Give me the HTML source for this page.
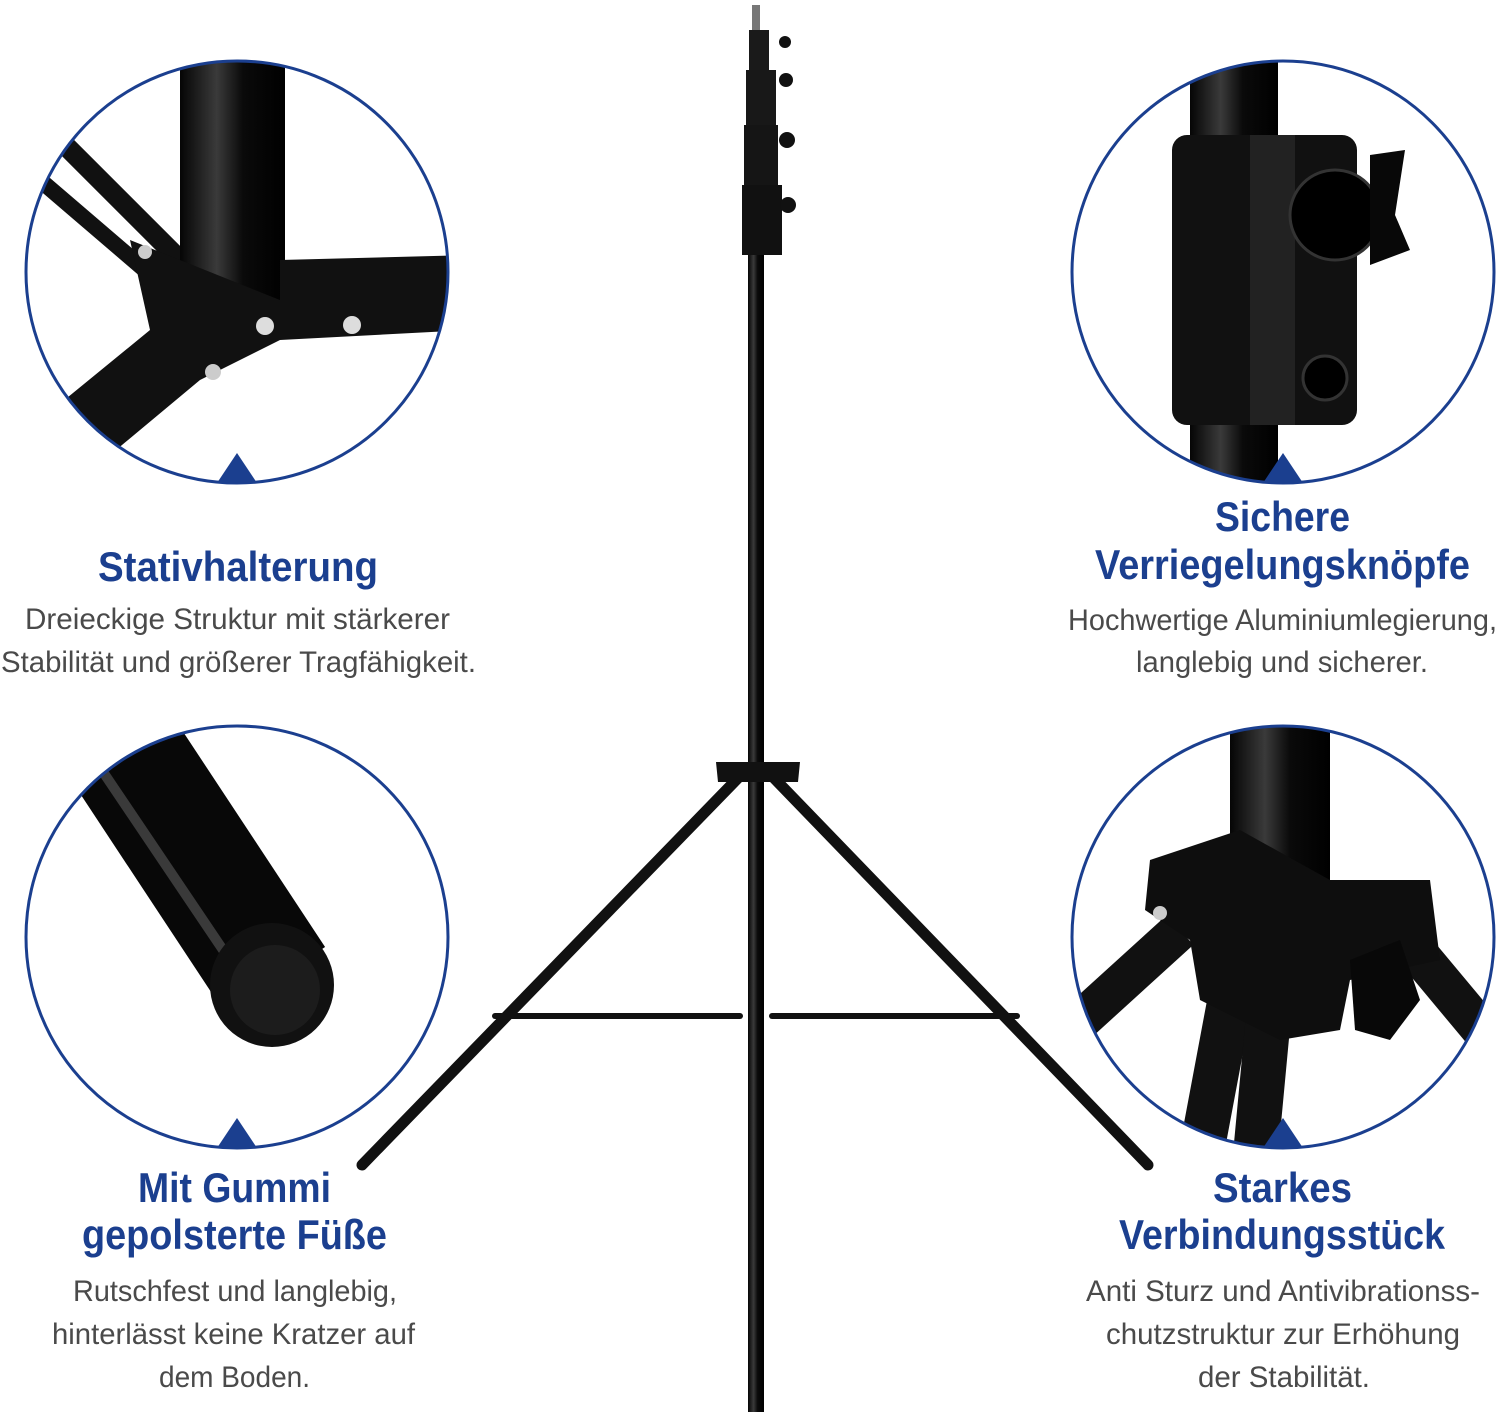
<!DOCTYPE html>
<html><head><meta charset="utf-8"><style>
html,body{margin:0;padding:0;background:#fff;}
svg{display:block;}
.t{font-family:"Liberation Sans",sans-serif;font-weight:bold;font-size:42px;fill:#1b3f8f;}
.b{font-family:"Liberation Sans",sans-serif;font-size:30px;fill:#4a4a4a;}
</style></head><body>
<svg width="1500" height="1420" viewBox="0 0 1500 1420" xmlns="http://www.w3.org/2000/svg">
<defs>
<clipPath id="c1"><circle cx="237" cy="272" r="211"/></clipPath>
<clipPath id="c2"><circle cx="1283" cy="272" r="211"/></clipPath>
<clipPath id="c3"><circle cx="237" cy="937" r="211"/></clipPath>
<clipPath id="c4"><circle cx="1283" cy="937" r="211"/></clipPath>
<linearGradient id="pg" x1="0" x2="1"><stop offset="0" stop-color="#050505"/><stop offset=".35" stop-color="#3a3a3a"/><stop offset=".6" stop-color="#0a0a0a"/><stop offset="1" stop-color="#000"/></linearGradient>
</defs>

<!-- Tripod -->
<g stroke="#111" stroke-linecap="round">
<line x1="740" y1="776" x2="362" y2="1165" stroke-width="11"/>
<line x1="772" y1="776" x2="1148" y2="1165" stroke-width="11"/>
<line x1="495" y1="1016" x2="740" y2="1016" stroke-width="6"/>
<line x1="772" y1="1016" x2="1017" y2="1016" stroke-width="6"/>
</g>
<rect x="748" y="250" width="16" height="1162" fill="url(#pg)"/>
<rect x="751" y="40" width="11" height="215" fill="#111"/>
<rect x="742" y="185" width="40" height="70" fill="#111"/>
<rect x="744" y="125" width="34" height="60" fill="#151515"/>
<rect x="746" y="70" width="30" height="55" fill="#181818"/>
<rect x="749" y="30" width="20" height="40" fill="#1a1a1a"/>
<circle cx="788" cy="205" r="8" fill="#111"/><circle cx="787" cy="140" r="8" fill="#111"/><circle cx="786" cy="80" r="7" fill="#111"/><circle cx="785" cy="42" r="6" fill="#111"/>
<rect x="752" y="5" width="8" height="25" fill="#777"/>
<path d="M716 762 L800 762 L798 782 L718 782 Z" fill="#111"/>

<!-- Circles -->
<g clip-path="url(#c1)">
<rect x="0" y="0" width="500" height="500" fill="#fff"/>
<line x1="20" y1="100" x2="200" y2="280" stroke="#111" stroke-width="20"/>
<line x1="40" y1="180" x2="180" y2="300" stroke="#111" stroke-width="16"/>
<rect x="180" y="50" width="105" height="260" fill="url(#pg)"/>
<path d="M280 260 L470 255 L470 330 L280 340 Z" fill="#111"/>
<path d="M130 240 L280 300 L280 340 L200 380 L80 480 L40 420 L150 330 Z" fill="#111"/>
<circle cx="265" cy="326" r="9" fill="#ddd"/><circle cx="352" cy="325" r="9" fill="#ddd"/><circle cx="213" cy="372" r="8" fill="#ccc"/><circle cx="145" cy="252" r="7" fill="#ccc"/>
</g>
<g clip-path="url(#c2)">
<rect x="1190" y="50" width="88" height="440" fill="url(#pg)"/>
<rect x="1172" y="135" width="185" height="290" rx="15" fill="#111"/>
<rect x="1250" y="135" width="45" height="290" fill="#222"/>
<circle cx="1335" cy="215" r="45" fill="#000" stroke="#333" stroke-width="3"/>
<path d="M1370 155 L1405 150 L1395 215 L1410 250 L1370 265 Z" fill="#080808"/>
<circle cx="1325" cy="378" r="22" fill="#000" stroke="#333" stroke-width="3"/>
</g>
<g clip-path="url(#c3)">
<rect x="0" y="700" width="500" height="500" fill="#fff"/>
<line x1="110" y1="730" x2="275" y2="980" stroke="#080808" stroke-width="120"/>
<line x1="95" y1="760" x2="250" y2="990" stroke="#3a3a3a" stroke-width="10"/>
<circle cx="272" cy="985" r="62" fill="#111"/>
<circle cx="275" cy="990" r="45" fill="#1c1c1c"/>
</g>
<g clip-path="url(#c4)">
<line x1="1180" y1="930" x2="1070" y2="1030" stroke="#111" stroke-width="40"/>
<line x1="1390" y1="920" x2="1490" y2="1040" stroke="#111" stroke-width="40"/>
<line x1="1230" y1="1000" x2="1200" y2="1160" stroke="#111" stroke-width="45"/>
<line x1="1270" y1="1000" x2="1255" y2="1160" stroke="#111" stroke-width="45"/>
<rect x="1230" y="720" width="100" height="180" fill="url(#pg)"/>
<path d="M1150 860 L1240 830 L1330 880 L1430 880 L1440 960 L1350 980 L1340 1030 L1280 1040 L1200 1000 L1190 940 L1145 910 Z" fill="#0e0e0e"/>
<path d="M1350 960 L1400 940 L1420 1000 L1390 1040 L1355 1030 Z" fill="#080808"/>
<circle cx="1160" cy="913" r="7" fill="#ccc"/>
</g>
<g fill="none" stroke="#1b3f8f" stroke-width="3">
<circle cx="237" cy="272" r="211"/><circle cx="1283" cy="272" r="211"/>
<circle cx="237" cy="937" r="211"/><circle cx="1283" cy="937" r="211"/>
</g>
<g fill="#1b3f8f">
<path d="M237 453 L217 483 L257 483 Z"/><path d="M1283 453 L1263 483 L1303 483 Z"/>
<path d="M237 1118 L217 1148 L257 1148 Z"/><path d="M1283 1118 L1263 1148 L1303 1148 Z"/>
</g>

<!-- Text -->
<text class="t" x="98" y="581" textLength="280" lengthAdjust="spacingAndGlyphs">Stativhalterung</text>
<text class="b" x="25" y="629" textLength="425" lengthAdjust="spacingAndGlyphs">Dreieckige Struktur mit stärkerer</text>
<text class="b" x="1" y="672" textLength="475" lengthAdjust="spacingAndGlyphs">Stabilität und größerer Tragfähigkeit.</text>

<text class="t" x="1215" y="531" textLength="135" lengthAdjust="spacingAndGlyphs">Sichere</text>
<text class="t" x="1095" y="579" textLength="375" lengthAdjust="spacingAndGlyphs">Verriegelungsknöpfe</text>
<text class="b" x="1068" y="630" textLength="429" lengthAdjust="spacingAndGlyphs">Hochwertige Aluminiumlegierung,</text>
<text class="b" x="1136" y="672" textLength="292" lengthAdjust="spacingAndGlyphs">langlebig und sicherer.</text>

<text class="t" x="138" y="1202" textLength="193" lengthAdjust="spacingAndGlyphs">Mit Gummi</text>
<text class="t" x="82" y="1249" textLength="305" lengthAdjust="spacingAndGlyphs">gepolsterte Füße</text>
<text class="b" x="73" y="1301" textLength="324" lengthAdjust="spacingAndGlyphs">Rutschfest und langlebig,</text>
<text class="b" x="52" y="1344" textLength="363" lengthAdjust="spacingAndGlyphs">hinterlässt keine Kratzer auf</text>
<text class="b" x="159" y="1387" textLength="151" lengthAdjust="spacingAndGlyphs">dem Boden.</text>

<text class="t" x="1213" y="1202" textLength="139" lengthAdjust="spacingAndGlyphs">Starkes</text>
<text class="t" x="1119" y="1249" textLength="326" lengthAdjust="spacingAndGlyphs">Verbindungsstück</text>
<text class="b" x="1086" y="1301" textLength="394" lengthAdjust="spacingAndGlyphs">Anti Sturz  und Antivibrationss-</text>
<text class="b" x="1106" y="1344" textLength="354" lengthAdjust="spacingAndGlyphs">chutzstruktur zur Erhöhung</text>
<text class="b" x="1198" y="1387" textLength="172" lengthAdjust="spacingAndGlyphs">der Stabilität.</text>
</svg>
</body></html>
